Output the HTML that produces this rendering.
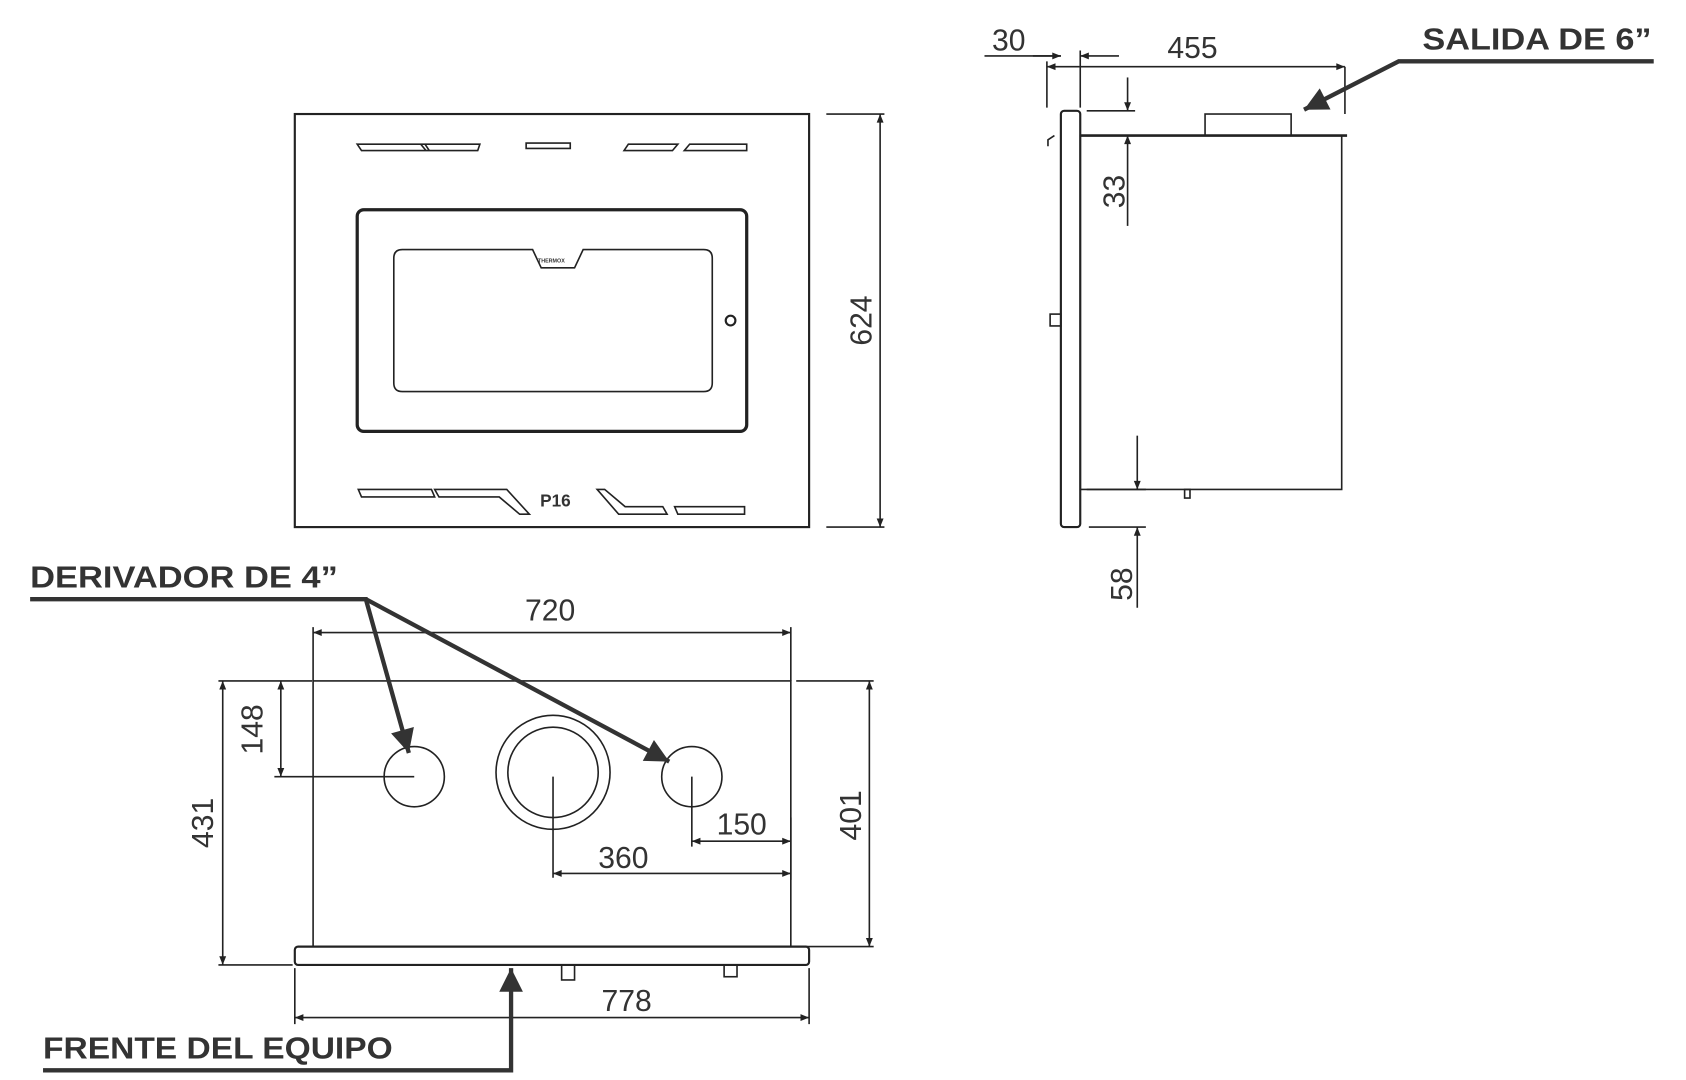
<!DOCTYPE html>
<html><head><meta charset="utf-8"><style>html,body{margin:0;padding:0;background:#fff}svg{display:block}</style></head><body>
<svg width="1686" height="1080" viewBox="0 0 1567 1004" preserveAspectRatio="none" xmlns="http://www.w3.org/2000/svg" font-family="Liberation Sans, sans-serif">
<defs>
<marker id="a" viewBox="0 0 10 10" refX="10" refY="5" markerWidth="14" markerHeight="8" markerUnits="userSpaceOnUse" orient="auto-start-reverse"><path d="M0,1 L10,5 L0,9 z" fill="#222"/></marker>
<marker id="b" viewBox="0 0 10 10" refX="10" refY="5" markerWidth="30" markerHeight="22" markerUnits="userSpaceOnUse" orient="auto"><path d="M0,0 L10,5 L0,10 z" fill="#333"/></marker>
</defs>
<g fill="none" stroke="#222" stroke-width="1.5">
<rect x="274" y="106" width="478" height="384" stroke-width="2"/>
<rect x="332" y="195" width="362" height="206" rx="6" stroke-width="3"/>
<path d="M374,232 H495 L503,249 H534 L542,232 H654 Q662,232 662,240 V356 Q662,364 654,364 H374 Q366,364 366,356 V240 Q366,232 374,232 Z"/>
<circle cx="679" cy="298" r="4.5" stroke-width="2"/>
<path d="M332,134 H395 L399,140 H336 Z M391,134 H446 L444,140 H396 Z M489,133 H530 V138 H489 Z M584,134 H630 L625,140 H580 Z M641,134 H694 V140 H636 Z"/>
<path d="M333,455 H401 L404,462 H336 Z M404,455 H471 L492,478 H483 L464,462 H408 Z M555,455 H562 L581,471 H616 L620,478 H575 Z M627,471 H692 V478 H630 Z"/>
<path d="M768,106 H822 M768,490 H822"/>
<line x1="818" y1="106" x2="818" y2="490" marker-start="url(#a)" marker-end="url(#a)"/>
<rect x="986" y="103" width="18" height="387" rx="3" stroke-width="2"/>
<rect x="1004" y="126" width="243" height="329"/>
<line x1="1004" y1="126" x2="1252" y2="126" stroke-width="2.5"/>
<rect x="1120" y="106" width="80" height="20"/>
<rect x="1101" y="455" width="5" height="8"/>
<rect x="976" y="292" width="10" height="11"/>
<path d="M980,126 L974,130 L974,136"/>
<path d="M973,57 V100 M1004,47 V100 M1250,62 V106"/>
<line x1="915" y1="52" x2="986" y2="52"/>
<line x1="960" y1="52" x2="986" y2="52" marker-end="url(#a)"/>
<line x1="1040" y1="52" x2="1004" y2="52" marker-end="url(#a)"/>
<line x1="973" y1="62" x2="1250" y2="62" marker-start="url(#a)" marker-end="url(#a)"/>
<path d="M1010,103 H1055 M1010,126 H1055 M1010,455 H1065 M1012,490 H1065"/>
<line x1="1048" y1="72" x2="1048" y2="103" marker-end="url(#a)"/>
<line x1="1048" y1="210" x2="1048" y2="126" marker-end="url(#a)"/>
<line x1="1057" y1="405" x2="1057" y2="455" marker-end="url(#a)"/>
<line x1="1057" y1="565" x2="1057" y2="490" marker-end="url(#a)"/>
<rect x="291" y="633" width="444" height="247"/>
<rect x="274" y="880" width="478" height="17" rx="3" stroke-width="2"/>
<rect x="522" y="897" width="12" height="14"/>
<rect x="673" y="897" width="12" height="11"/>
<circle cx="385" cy="722" r="28"/>
<circle cx="514" cy="718" r="53"/>
<circle cx="514" cy="718" r="42"/>
<circle cx="643" cy="722" r="28"/>
<path d="M291,583 V633 M735,583 V633"/>
<line x1="291" y1="588" x2="735" y2="588" marker-start="url(#a)" marker-end="url(#a)"/>
<path d="M255,633 H290 M255,722 H385 M203,633 H270 M203,897 H272 M740,633 H812 M740,880 H812"/>
<line x1="261" y1="633" x2="261" y2="722" marker-start="url(#a)" marker-end="url(#a)"/>
<line x1="207" y1="633" x2="207" y2="897" marker-start="url(#a)" marker-end="url(#a)"/>
<line x1="808" y1="633" x2="808" y2="880" marker-start="url(#a)" marker-end="url(#a)"/>
<path d="M643,722 V787 M514,722 V816 M735,760 V818"/>
<line x1="643" y1="782" x2="735" y2="782" marker-start="url(#a)" marker-end="url(#a)"/>
<line x1="514" y1="812" x2="735" y2="812" marker-start="url(#a)" marker-end="url(#a)"/>
<path d="M274,900 V952 M752,900 V952"/>
<line x1="274" y1="946" x2="752" y2="946" marker-start="url(#a)" marker-end="url(#a)"/>
</g>
<g stroke="#333" stroke-width="4" fill="none">
<path d="M1537,57 H1300 L1212,102" marker-end="url(#b)"/>
<path d="M28,557 H340 L380,700" marker-end="url(#b)"/>
<path d="M340,557 L622,708" marker-end="url(#b)"/>
<path d="M40,995 H475 V900" marker-end="url(#b)"/>
</g>
<g fill="#333" font-size="28">
<text x="1322" y="46" font-weight="bold" textLength="213" lengthAdjust="spacingAndGlyphs">SALIDA DE 6”</text>
<text x="28" y="546" font-weight="bold" textLength="286" lengthAdjust="spacingAndGlyphs">DERIVADOR DE 4”</text>
<text x="40" y="984" font-weight="bold" textLength="325" lengthAdjust="spacingAndGlyphs">FRENTE DEL EQUIPO</text>
<text x="922" y="47">30</text>
<text x="1085" y="54">455</text>
<text x="488" y="577">720</text>
<text x="666" y="776">150</text>
<text x="556" y="807">360</text>
<text x="559" y="940">778</text>
<text transform="translate(810,298) rotate(-90)" text-anchor="middle">624</text>
<text transform="translate(1045,178) rotate(-90)" text-anchor="middle">33</text>
<text transform="translate(1052,543) rotate(-90)" text-anchor="middle">58</text>
<text transform="translate(244,678) rotate(-90)" text-anchor="middle">148</text>
<text transform="translate(198,765) rotate(-90)" text-anchor="middle">431</text>
<text transform="translate(800,758) rotate(-90)" text-anchor="middle">401</text>
<text x="502" y="471" font-size="16" font-weight="bold">P16</text>
<text x="500" y="244" font-size="5" font-weight="bold">THERMOX</text>
</g>
</svg>
</body></html>
